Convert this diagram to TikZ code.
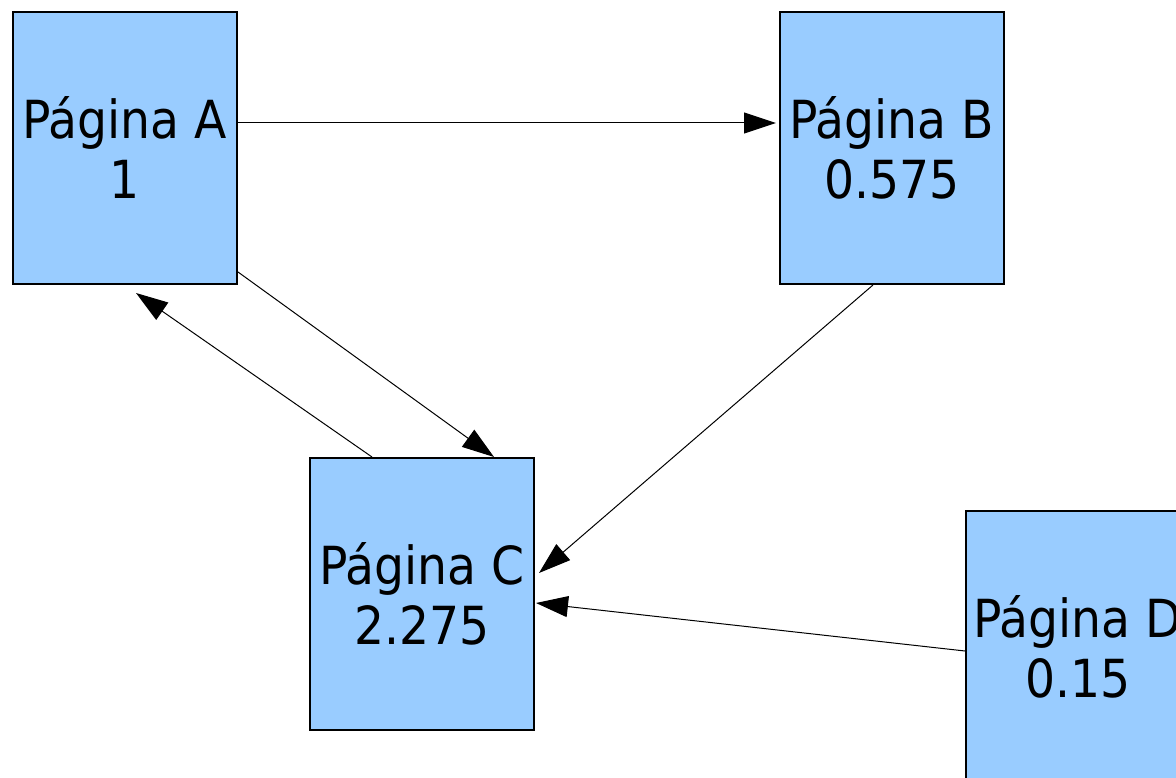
\documentclass[tikz,border=0pt]{standalone}
\usepackage{fontspec}
\setmainfont{DejaVu Sans Condensed}
\usetikzlibrary{arrows.meta}
\definecolor{pagefill}{HTML}{99CCFF}
\tikzset{
  page/.style={draw=black, line width=2pt, fill=pagefill, minimum width=224pt,
    minimum height=272pt, inner sep=0pt, align=center,
    font=\fontsize{52.5}{60}\selectfont},
  link/.style={draw=black, line width=1pt, -{Triangle[length=32pt,width=21pt]}}
}
\begin{document}
\begin{tikzpicture}[x=1pt,y=1pt]
  \useasboundingbox (0,0) rectangle (1176,-778);
  \clip (0,0) rectangle (1176,-778);
  \node[page] (A) at (125,-148) {Página A\\1};
  \node[page] (B) at (892,-148) {Página B\\0.575};
  \node[page] (C) at (422,-594) {Página C\\2.275};
  \node[page] (D) at (1078,-647) {Página D\\0.15};
  \draw[link] ([yshift=25pt]A.east) -- ([yshift=25pt,xshift=-3pt]B.west);
  \draw[link] ([yshift=13pt]A.south east) -- ([xshift=72pt]C.north);
  \draw[link] ([xshift=-50pt]C.north) -- ([xshift=11pt,yshift=-8pt]A.south);
  \draw[link] ([xshift=-19pt]B.south) -- ([xshift=4pt,yshift=21pt]C.east);
  \draw[link] ([yshift=-4pt]D.west) -- ([xshift=1pt,yshift=-9pt]C.east);
\end{tikzpicture}
\end{document}
